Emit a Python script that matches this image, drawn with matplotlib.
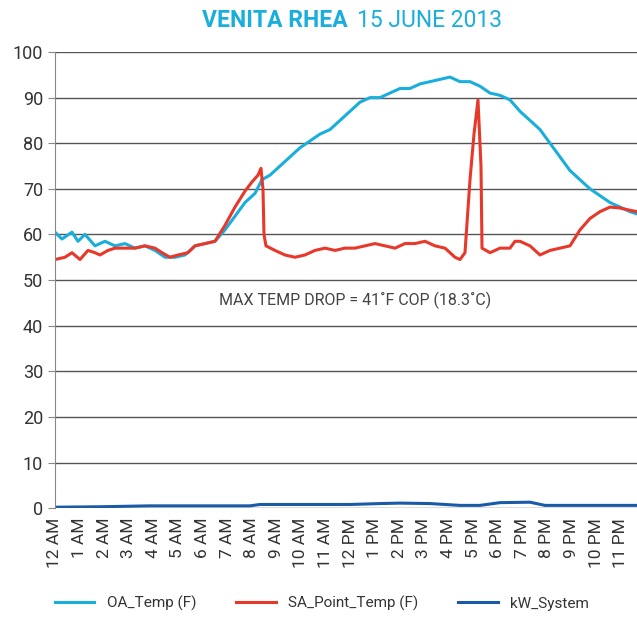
import numpy as np
import matplotlib.pyplot as plt

plt.rcParams['font.family'] = ['Roboto', 'DejaVu Sans']

# hour positions (pixel x -> hours)
def hrs(px):
    return (np.array(px) - 55) / 24.6

oa_px = [55, 62, 72, 78, 85, 95, 105, 115, 125, 135, 145, 155, 165, 175, 185, 195,
         205, 215, 225, 235, 245, 255, 262, 270, 280, 290, 300, 310, 320, 330, 340,
         350, 360, 370, 380, 390, 400, 410, 420, 430, 440, 450, 460, 470, 480, 490,
         500, 510, 520, 530, 540, 550, 560, 570, 580, 590, 600, 610, 620, 630, 637]
oa_temp = [60.5, 59, 60.5, 58.5, 60, 57.5, 58.5, 57.5, 58, 57, 57.5, 56.5, 55, 55, 55.5, 57.5,
           58, 58.5, 61, 64, 67, 69, 72, 73, 75, 77, 79, 80.5, 82, 83, 85,
           87, 89, 90, 90, 91, 92, 92, 93, 93.5, 94, 94.5, 93.5, 93.5, 92.5, 91,
           90.5, 89.5, 87, 85, 83, 80, 77, 74, 72, 70, 68.5, 67, 66, 65, 64.5]

sa_px = [55, 65, 72, 80, 88, 95, 100, 108, 115, 125, 135, 145, 155, 162, 170, 178,
         188, 195, 205, 215, 225, 235, 245, 252, 258, 261, 263, 264, 266, 275, 285,
         295, 305, 315, 325, 335, 345, 355, 365, 375, 385, 395, 405, 415, 425, 435,
         445, 455, 460, 465, 470, 474, 478, 481, 482, 490, 500, 510, 515, 520, 530,
         540, 550, 560, 570, 580, 590, 600, 610, 620, 630, 637]
sa_temp = [54.5, 55, 56, 54.5, 56.5, 56, 55.5, 56.5, 57, 57, 57, 57.5, 57, 56, 55, 55.5,
           56, 57.5, 58, 58.5, 62, 66, 69.5, 71.5, 73, 74.5, 70, 60, 57.5, 56.5, 55.5,
           55, 55.5, 56.5, 57, 56.5, 57, 57, 57.5, 58, 57.5, 57, 58, 58, 58.5, 57.5,
           57, 55, 54.5, 56, 72, 82, 89.5, 75, 57, 56, 57, 57, 58.5, 58.5, 57.5,
           55.5, 56.5, 57, 57.5, 61, 63.5, 65, 66, 65.8, 65.3, 65]

kw_px = [55, 100, 150, 250, 260, 350, 380, 400, 430, 460, 480, 500, 530, 545, 637]
kw_system = [0.2, 0.3, 0.5, 0.5, 0.8, 0.8, 1.0, 1.1, 1.0, 0.6, 0.6, 1.2, 1.3, 0.6, 0.6]

hour_labels = ['12 AM'] + [f'{i} AM' for i in range(1, 12)] + ['12 PM'] + [f'{i} PM' for i in range(1, 12)]

cyan = '#1aaedc'
red = '#e8382a'
blue = '#1b5aa6'

fig = plt.figure(figsize=(6.37, 6.25), dpi=100)
ax = fig.add_axes([0.0863, 0.187, 0.9137, 0.7298])

ax.plot(hrs(oa_px), oa_temp, color=cyan, lw=2.2, label='OA_Temp (F)')
ax.plot(hrs(sa_px), sa_temp, color=red, lw=2.2, label='SA_Point_Temp (F)')
ax.plot(hrs(kw_px), kw_system, color=blue, lw=2.2, label='kW_System')

ax.set_xlim(0, (637 - 55) / 24.6)
ax.set_ylim(0, 100)
ax.set_yticks(range(0, 101, 10))
ax.set_xticks(range(24))
ax.set_xticklabels(hour_labels, rotation=90, fontsize=12.5, color='#333333')
ax.tick_params(axis='y', labelsize=13, colors='#333333', length=5, color='#888888')
ax.tick_params(axis='x', length=0, pad=7)
ax.grid(axis='y', color='#555555', lw=1)
ax.set_axisbelow(True)
for s in ['top', 'right', 'bottom']:
    ax.spines[s].set_visible(False)
ax.spines['left'].set_color('#888888')

ax.text(12.2, 45.5, 'MAX TEMP DROP = 41˚F COP (18.3˚C)', ha='center', va='center',
        fontsize=11.5, color='#444444')

fig.text(0.545, 0.967, 'VENITA RHEA', ha='right', va='center', fontsize=16.5,
         fontweight='bold', color=cyan)
fig.text(0.56, 0.967, '15 JUNE 2013', ha='left', va='center', fontsize=16.5, color=cyan)

fig.legend(loc='lower center', bbox_to_anchor=(0.505, 0.0), ncol=3, frameon=False,
           fontsize=11, handlelength=2.6, columnspacing=2.6,
           labelcolor='#333333')

fig.savefig('out.png', dpi=100)
